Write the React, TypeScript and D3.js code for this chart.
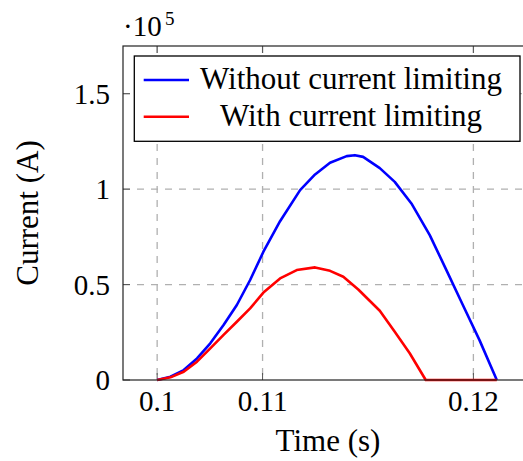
import React from "react";
import * as d3 from "d3";

const blueTime = [0.1, 0.10063, 0.10126, 0.10189, 0.10252, 0.10315, 0.10378, 0.10441, 0.10504, 0.10583, 0.10678, 0.10749, 0.1082, 0.10899, 0.10938, 0.10977, 0.11056, 0.11127, 0.11206, 0.11293, 0.11372, 0.1145, 0.11529, 0.11611];
const blueCurrent = [0, 0.017, 0.052, 0.113, 0.192, 0.288, 0.393, 0.524, 0.672, 0.832, 0.995, 1.077, 1.138, 1.173, 1.178, 1.169, 1.11, 1.038, 0.925, 0.759, 0.576, 0.393, 0.209, 0];

const redTime = [0.1, 0.10063, 0.10126, 0.10189, 0.10252, 0.10315, 0.10378, 0.10441, 0.10504, 0.10583, 0.10662, 0.10749, 0.1082, 0.10883, 0.10954, 0.11056, 0.11127, 0.11198, 0.11274, 0.11611];
const redCurrent = [0, 0.014, 0.043, 0.096, 0.166, 0.236, 0.305, 0.375, 0.458, 0.532, 0.576, 0.59, 0.572, 0.541, 0.474, 0.363, 0.253, 0.14, 0, 0];

const xTickValues = [0.1, 0.105, 0.115];
const xTickLabels = ["0.1", "0.11", "0.12"];
const yTickValues = [0, 0.5, 1, 1.5];
const yTickLabels = ["0", "0.5", "1", "1.5"];
const legendLabels = ["Without current limiting", "With current limiting"];
const seriesColors = ["#0000ff", "#ff0000"];

const FONT = '"Liberation Serif", "DejaVu Serif", serif';
const tstyle = { fontFamily: FONT };

export default function App() {
  const left = 123, right = 532, top = 46, bottom = 380;
  const x = d3.scaleLinear().domain([0.09838, 0.11778]).range([left, right]);
  const y = d3.scaleLinear().domain([0, 1.75]).range([bottom, top]);
  const line = d3.line<[number, number]>().x(d => x(d[0])).y(d => y(d[1]));
  const blue: [number, number][] = blueTime.map((t, i) => [t, blueCurrent[i]]);
  const red: [number, number][] = redTime.map((t, i) => [t, redCurrent[i]]);
  const series = [blue, red];

  return (
    <svg width={523} height={461} style={{ position: "absolute", left: 0, top: 0, fontFamily: FONT }}>
      <rect x={0} y={0} width={523} height={461} fill="#fff" />
      {xTickValues.map((v, i) => (
        <line key={"gx" + i} x1={x(v)} x2={x(v)} y1={top} y2={bottom} stroke="#b0b0b0" strokeWidth={1.3} strokeDasharray="7,7" />
      ))}
      {yTickValues.filter(v => v > 0).map((v, i) => (
        <line key={"gy" + i} x1={left} x2={right} y1={y(v)} y2={y(v)} stroke="#b0b0b0" strokeWidth={1.3} strokeDasharray="7,7" />
      ))}
      {xTickValues.map((v, i) => (
        <g key={"tx" + i}>
          <line x1={x(v)} x2={x(v)} y1={bottom} y2={bottom - 7} stroke="#555" strokeWidth={1} />
          <line x1={x(v)} x2={x(v)} y1={top} y2={top + 7} stroke="#555" strokeWidth={1} />
          <text x={x(v)} y={411} textAnchor="middle" fontSize={29} style={tstyle}>{xTickLabels[i]}</text>
        </g>
      ))}
      {yTickValues.map((v, i) => (
        <g key={"ty" + i}>
          <line x1={left} x2={left + 7} y1={y(v)} y2={y(v)} stroke="#555" strokeWidth={1} />
          <line x1={right} x2={right - 7} y1={y(v)} y2={y(v)} stroke="#555" strokeWidth={1} />
          <text x={110} y={y(v) + 10} textAnchor="end" fontSize={29} style={tstyle}>{yTickLabels[i]}</text>
        </g>
      ))}
      {series.map((s, i) => (
        <path key={"s" + i} d={line(s) || ""} fill="none" stroke={seriesColors[i]} strokeWidth={2.6} strokeLinejoin="round" />
      ))}
      <rect x={left} y={top} width={right - left} height={bottom - top} fill="none" stroke="#222" strokeWidth={1.2} />
      <text x={123} y={36} fontSize={29} style={tstyle}>·10</text>
      <text x={165} y={25} fontSize={19} style={tstyle}>5</text>
      <rect x={134.3} y={56} width={385.7} height={85.3} fill="#fff" stroke="#000" strokeWidth={1.3} />
      {legendLabels.map((l, i) => (
        <g key={"lg" + i}>
          <line x1={143.7} x2={189} y1={80 + i * 36.7} y2={80 + i * 36.7} stroke={seriesColors[i]} strokeWidth={2.6} />
          <text x={351} y={88.5 + i * 37} textAnchor="middle" fontSize={31} style={tstyle}>{l}</text>
        </g>
      ))}
      <text x={328} y={451} textAnchor="middle" fontSize={31} style={tstyle}>Time (s)</text>
      <text transform={`translate(38,${(top + bottom) / 2}) rotate(-90)`} textAnchor="middle" fontSize={31} style={tstyle}>Current (A)</text>
    </svg>
  );
}
